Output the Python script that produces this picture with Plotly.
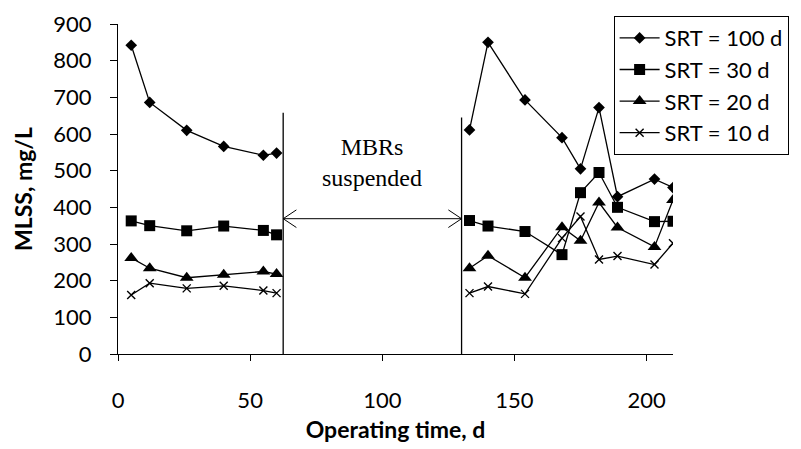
import plotly.graph_objects as go

# Operating time (d) and MLSS (mg/L) for each SRT
t_before = [5, 12, 26, 40, 55, 60]
t_after = [133, 140, 154, 168, 175, 182, 189, 203, 210]

srt100 = [842, 686, 610, 566, 542, 548, None, 611, 850, 693, 590, 505, 672, 429, 477, 454]
srt30 = [363, 350, 336, 349, 337, 325, None, 364, 349, 334, 271, 440, 495, 400, 361, 362]
srt20 = [262, 234, 208, 216, 225, 218, None, 234, 268, 208, 346, 309, 413, 345, 292, 420]
srt10 = [161, 193, 179, 186, 173, 166, None, 166, 184, 164, 316, 375, 258, 267, 244, 302]

series_names = ["SRT = 100 d", "SRT = 30 d", "SRT = 20 d", "SRT = 10 d"]
marker_symbols = ["diamond", "square", "triangle-up", "x-thin"]
marker_sizes = [9, 11, 12, 8]

# suspension period markers
suspend_start, suspend_end = 62.5, 130
suspend_tops = [658, 645]
arrow_level = 369

x_ticks = [0, 50, 100, 150, 200]
y_ticks = [0, 100, 200, 300, 400, 500, 600, 700, 800, 900]

times = t_before + [None] + t_after

fig = go.Figure()
for name, vals, sym, sz in zip(series_names, [srt100, srt30, srt20, srt10], marker_symbols, marker_sizes):
    fig.add_trace(go.Scatter(
        x=times, y=vals, name=name, mode="lines+markers",
        connectgaps=False,
        line=dict(color="black", width=1.3),
        marker=dict(symbol=sym, size=sz, color="black",
                    line=dict(color="black", width=1.4 if sym == "x-thin" else 0)),
    ))

shapes = []
for xv, top in zip([suspend_start, suspend_end], suspend_tops):
    shapes.append(dict(type="line", xref="x", yref="y", x0=xv, x1=xv, y0=0, y1=top,
                       line=dict(color="black", width=1.3)))
shapes.append(dict(type="line", xref="x", yref="y", x0=suspend_start, x1=suspend_end,
                   y0=arrow_level, y1=arrow_level, line=dict(color="black", width=1)))
hx, hy = 5, 24
for x0, d in [(suspend_start, 1), (suspend_end, -1)]:
    path = f"M {x0 + d*hx},{arrow_level + hy} L {x0},{arrow_level} L {x0 + d*hx},{arrow_level - hy}"
    shapes.append(dict(type="path", xref="x", yref="y", path=path,
                       line=dict(color="black", width=1)))

fig.update_layout(
    width=801, height=449,
    margin=dict(l=118, r=126, t=24, b=95),
    paper_bgcolor="white", plot_bgcolor="white",
    font=dict(family="Lato, Liberation Sans, sans-serif", color="black", size=22),
    shapes=shapes,
    showlegend=True,
    legend=dict(x=0.893, y=1.024, xanchor="left", yanchor="top",
                bordercolor="black", borderwidth=1, bgcolor="white",
                font=dict(size=22), itemwidth=40, tracegroupgap=0,
                entrywidth=128, entrywidthmode="pixels"),
    annotations=[dict(x=(suspend_start + suspend_end) / 2, y=521, xref="x", yref="y",
                      text="MBRs<br>suspended", showarrow=False,
                      font=dict(family="Liberation Serif, serif", size=24, color="black"))],
)
fig.update_xaxes(range=[0, 210], tickvals=x_ticks, showgrid=False, zeroline=False,
                 showline=True, linecolor="black", linewidth=1.3,
                 ticks="outside", ticklen=6, tickcolor="black", tickwidth=1.3,
                 ticklabelstandoff=20, automargin=False,
                 title=dict(text="<b>Operating time, d</b>", font=dict(size=23), standoff=10))
fig.update_yaxes(range=[0, 900], tickvals=y_ticks, showgrid=False, zeroline=False,
                 showline=True, linecolor="black", linewidth=1.3,
                 ticks="outside", ticklen=7, tickcolor="black", tickwidth=1.3,
                 ticklabelstandoff=14, automargin=False,
                 title=dict(text="<b>MLSS, mg/L</b>", font=dict(size=23), standoff=14))

fig.write_html("out.html")
